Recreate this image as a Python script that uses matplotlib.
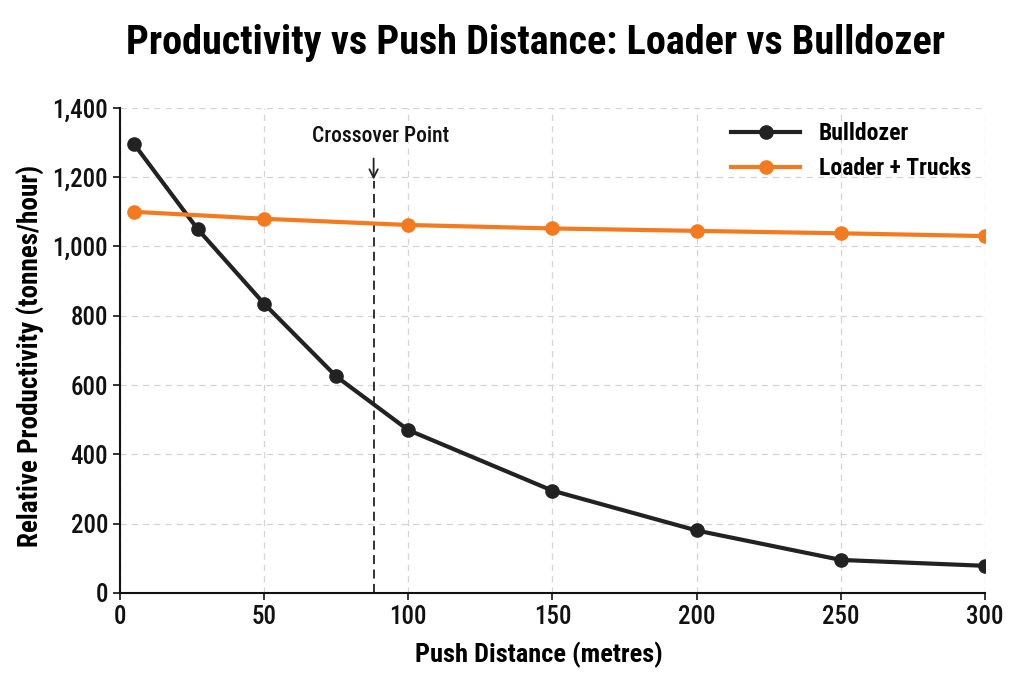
import matplotlib.pyplot as plt
from matplotlib.ticker import FuncFormatter
from matplotlib import font_manager

# data
dozer_x = [5, 27, 50, 75, 100, 150, 200, 250, 300]
dozer_y = [1295, 1050, 835, 625, 470, 295, 180, 95, 78]
loader_x = [5, 50, 100, 150, 200, 250, 300]
loader_y = [1100, 1080, 1062, 1052, 1045, 1038, 1030]
crossover_x = 88

names = {f.name for f in font_manager.fontManager.ttflist}
fam = [n for n in ['Roboto Condensed', 'Liberation Sans Narrow', 'Liberation Sans', 'DejaVu Sans'] if n in names]
plt.rcParams['font.family'] = fam

fig = plt.figure(figsize=(10.24, 6.83), dpi=100)
ax = fig.add_axes([0.117, 0.132, 0.845, 0.710])

ax.plot(dozer_x, dozer_y, color='#222222', lw=3, marker='o', ms=9.5, label='Bulldozer', zorder=3)
ax.plot(loader_x, loader_y, color='#f47a1f', lw=3, marker='o', ms=9.5, label='Loader + Trucks', zorder=3)

ax.plot([crossover_x, crossover_x], [0, 1190], color='#222222', lw=1.3, ls=(0, (5, 3)), zorder=2)
ax.annotate('', xy=(crossover_x, 1185), xytext=(crossover_x, 1262),
            arrowprops=dict(arrowstyle='->,head_length=0.6,head_width=0.3', color='#222222', lw=1.3))
ax.text(crossover_x + 2.5, 1318, 'Crossover Point', ha='center', va='center', fontsize=15.5,
        fontweight='medium', color='#111111')

ax.set_xlim(0, 300)
ax.set_ylim(0, 1400)
ax.set_xticks([0, 50, 100, 150, 200, 250, 300])
ax.set_yticks(range(0, 1401, 200))
ax.yaxis.set_major_formatter(FuncFormatter(lambda v, p: f'{int(v):,}'))
ax.tick_params(labelsize=18, length=5, width=1.2, colors='#111111')
for lbl in ax.get_xticklabels() + ax.get_yticklabels():
    lbl.set_fontweight('medium')
ax.grid(True, ls=(0, (5, 4)), color='#d4d4d4', lw=0.9)
ax.set_axisbelow(True)
for s in ['top', 'right']:
    ax.spines[s].set_visible(False)
for s in ['left', 'bottom']:
    ax.spines[s].set_linewidth(1.5)
    ax.spines[s].set_color('#111111')

ax.set_xlabel('Push Distance (metres)', fontsize=19, fontweight='bold')
ax.xaxis.set_label_coords(0.484, -0.1)
ax.set_ylabel('Relative Productivity (tonnes/hour)', fontsize=19.5, fontweight='bold')
ax.yaxis.set_label_coords(-0.087, 0.489)
fig.suptitle('Productivity vs Push Distance: Loader vs Bulldozer', fontsize=29, fontweight='bold',
             x=0.523, y=0.965)

leg = ax.legend(loc='upper right', frameon=False, fontsize=17, handlelength=2.9, borderaxespad=0.2,
                bbox_to_anchor=(1.0, 1.0))
for t in leg.get_texts():
    t.set_fontweight('bold')

fig.savefig('out.png', dpi=100)
